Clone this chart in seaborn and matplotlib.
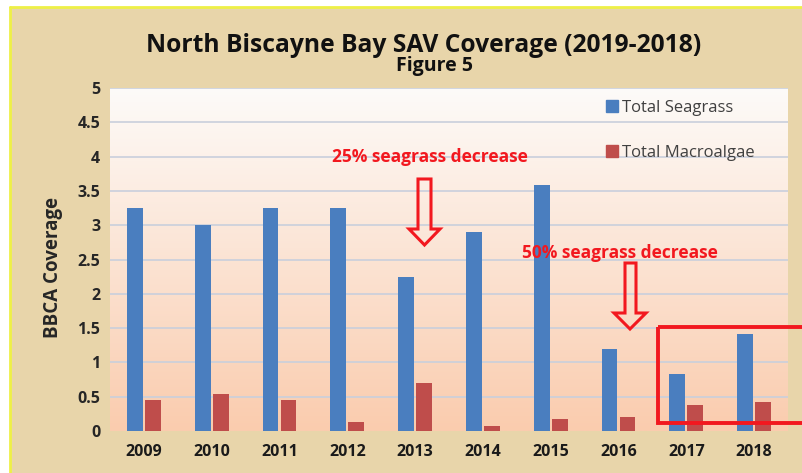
import matplotlib
matplotlib.use("Agg")
import matplotlib.pyplot as plt
import seaborn as sns
import numpy as np
import pandas as pd
from matplotlib.patches import Polygon, Rectangle
from matplotlib.lines import Line2D

years = ["2009", "2010", "2011", "2012", "2013", "2014", "2015", "2016", "2017", "2018"]
seagrass = [3.25, 3.0, 3.25, 3.25, 2.24, 2.9, 3.58, 1.2, 0.83, 1.42]
macroalgae = [0.45, 0.54, 0.45, 0.13, 0.70, 0.08, 0.17, 0.20, 0.38, 0.42]
series_names = ["Total Seagrass", "Total Macroalgae"]
yticks = [0, 0.5, 1, 1.5, 2, 2.5, 3, 3.5, 4, 4.5, 5]
ytick_labels = ["0", "0.5", "1", "1.5", "2", "2.5", "3", "3.5", "4", "4.5", "5"]

df = pd.DataFrame({
    "year": years * 2,
    "value": seagrass + macroalgae,
    "series": [series_names[0]] * len(years) + [series_names[1]] * len(years),
})

sns.set_theme(style="white")
plt.rcParams["font.family"] = ["Open Sans", "DejaVu Sans"]

W, H = 803, 473
fig = plt.figure(figsize=(W / 100, H / 100), dpi=100)
fig.patch.set_facecolor("white")

def fx(px):
    return px / W

def fy(py):
    return 1 - py / H

# background (tan) with yellow border
bg = Rectangle((fx(10), 0), 1 - fx(10), fy(7), transform=fig.transFigure,
               facecolor="#E8D5AA", edgecolor="none", zorder=-10)
fig.patches.append(bg)
fig.add_artist(Line2D([fx(10), 1], [fy(7), fy(7)], color="#EEF046", lw=2,
                      transform=fig.transFigure, zorder=-9))
fig.add_artist(Line2D([fx(10), fx(10)], [0, fy(7)], color="#EEF046", lw=2,
                      transform=fig.transFigure, zorder=-9))

ax = fig.add_axes([fx(110), fy(431), fx(788) - fx(110), fy(88) - fy(431)])
ax.set_zorder(1)
ax.set_facecolor("none")

palette = {series_names[0]: "#4A7EBF", series_names[1]: "#BF4D4B"}
sns.barplot(data=df, x="year", y="value", hue="series", palette=palette,
            width=0.53, gap=0.12, saturation=1, linewidth=0, ax=ax,
            legend=False, zorder=3)

# gradient panel
grad = np.linspace(0, 1, 256)
top_c = np.array([253, 251, 249]) / 255
bot_c = np.array([250, 204, 174]) / 255
img = top_c[None, :] * (1 - grad[:, None]) + bot_c[None, :] * grad[:, None]
img = img.reshape(256, 1, 3)
ax.imshow(img, extent=[-0.5, len(years) - 0.5, 0, 5], aspect="auto",
          origin="upper", zorder=0)
ax.set_xlim(-0.5, len(years) - 0.5)
ax.set_ylim(0, 5)

for yv in yticks[1:]:
    ax.axhline(yv, color="#C9CFDC", lw=1.2, zorder=1)

for s in ax.spines.values():
    s.set_visible(False)
ax.set_yticks(yticks)
ax.set_yticklabels(ytick_labels)
ax.tick_params(axis="y", length=0, pad=7, labelsize=11.5, labelcolor="#262626")
ax.tick_params(axis="x", length=0, pad=9, labelsize=11.5, labelcolor="#1a1a1a")
for t in ax.get_xticklabels() + ax.get_yticklabels():
    t.set_fontweight("bold")
ax.set_xlabel("")
ax.set_ylabel("")

fig.text(fx(53), fy(268), "BBCA Coverage", rotation=90, ha="center", va="center",
         fontsize=13.5, fontweight="bold", color="#262626")

fig.text(fx(424), fy(45), "North Biscayne Bay SAV Coverage (2019-2018)",
         ha="center", va="center", fontsize=17.7, fontweight="bold", color="#111111")
fig.text(fx(435), fy(66), "Figure 5", ha="center", va="center",
         fontsize=14, fontweight="bold", color="#111111")

# legend
handles = [Line2D([], [], marker="s", linestyle="none", markersize=8,
                  markerfacecolor=palette[n], markeredgecolor=palette[n]) for n in series_names]
fig.legend(handles, series_names, loc="upper left",
           bbox_to_anchor=(fx(598), fy(92)), frameon=False, fontsize=12,
           labelspacing=1.7, handlelength=0.7, handletextpad=0.25,
           borderpad=0, labelcolor="#404040")

# annotations
red = "#F2181F"
fig.text(fx(430), fy(157), "25% seagrass decrease", ha="center", va="center",
         fontsize=12.5, fontweight="bold", color=red)
fig.text(fx(620), fy(253), "50% seagrass decrease", ha="center", va="center",
         fontsize=12.5, fontweight="bold", color=red)

def hollow_arrow(xl, xr, ytop, yhead, hl, hr, ytip):
    xc = (hl + hr) / 2
    pts = [(xl, ytop), (xr, ytop), (xr, yhead), (hr, yhead), (xc, ytip),
           (hl, yhead), (xl, yhead)]
    poly = Polygon([(fx(a), fy(b)) for a, b in pts], closed=True,
                   transform=fig.transFigure, facecolor="none",
                   edgecolor=red, lw=2.2, zorder=5)
    fig.add_artist(poly)

hollow_arrow(418, 431, 179, 229, 409, 440, 245)
hollow_arrow(625, 636, 263, 313, 614, 646, 329)

# red box
box = Polygon([(fx(658), fy(327)), (fx(805), fy(327)), (fx(805), fy(423)),
               (fx(658), fy(423))], closed=True, transform=fig.transFigure,
              facecolor="none", edgecolor=red, lw=2.8, zorder=6)
fig.add_artist(box)

fig.savefig("out.png", dpi=100)
